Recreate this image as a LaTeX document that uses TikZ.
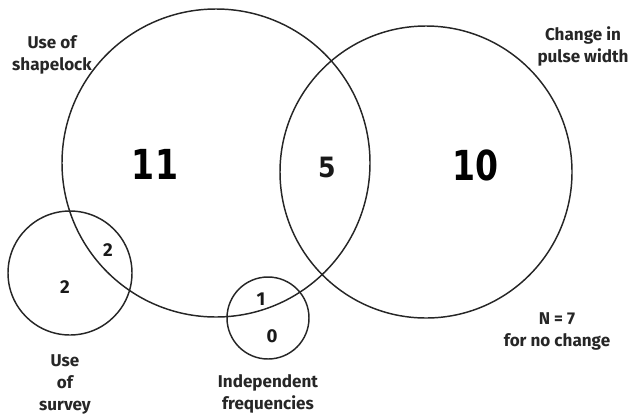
\documentclass[tikz,border=0pt]{standalone}
\usepackage{fontspec}
\setmainfont{Fira Sans}
\newfontfamily\numfont{DejaVu Sans}
\begin{document}
\begin{tikzpicture}[x=0.75pt,y=-0.75pt,
  setcircle/.style={circle,draw=black!85,line width=1.1pt,inner sep=0pt},
  lbl/.style={align=center,font=\fontsize{12.8}{16.5}\selectfont\bfseries,text=black!85},
  bignum/.style={font=\numfont\fontsize{31}{31}\selectfont\bfseries,xscale=0.8,transform shape},
  midnum/.style={font=\numfont\fontsize{21}{21}\selectfont\bfseries,text=black!90,xscale=0.9,transform shape},
  smallnum/.style={font=\fontsize{14}{14}\selectfont\bfseries,text=black!90}]
  \useasboundingbox (0,0) rectangle (630,418);
  % sets
  \node[setcircle,minimum size=231pt] (shape) at (216,163) {};
  \node[setcircle,minimum size=219pt] (pulse) at (426,172) {};
  \node[setcircle,minimum size=93pt] (survey) at (70,273) {};
  \node[setcircle,minimum size=61.5pt] (indep) at (268,318) {};
  % counts
  \node[bignum] (n11) at (155,164) {11};
  \node[bignum] (n10) at (475,165) {10};
  \node[midnum] (n5) at (327,167) {5};
  \node[smallnum] (nsv) at (65,287) {2};
  \node[smallnum] (nss) at (108,250) {2};
  \node[smallnum] (nis) at (261,299) {1};
  \node[smallnum] (nio) at (272,336) {0};
  % labels
  \node[lbl] (lshape) at (52,55) {Use of\\shapelock};
  \node[lbl] (lpulse) at (583,46) {Change in\\pulse width};
  \node[lbl] (lnone) at (557,331) {N = 7\\for no change};
  \node[lbl] (lsurvey) at (65,384) {Use\\of\\survey};
  \node[lbl] (lindep) at (268,394) {Independent\\frequencies};
\end{tikzpicture}
\end{document}
